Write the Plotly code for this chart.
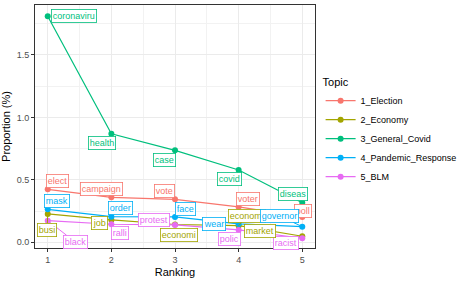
import plotly.graph_objects as go

ranking = [1, 2, 3, 4, 5]
topics = ["1_Election", "2_Economy", "3_General_Covid", "4_Pandemic_Response", "5_BLM"]
colors = ["#F8766D", "#A3A500", "#00BF7D", "#00B0F6", "#E76BF3"]

election = [0.424, 0.360, 0.344, 0.283, 0.203]
economy = [0.227, 0.179, 0.142, 0.133, 0.048]
general_covid = [1.810, 0.869, 0.736, 0.579, 0.317]
pandemic = [0.264, 0.205, 0.203, 0.147, 0.125]
blm = [0.173, 0.144, 0.139, 0.099, 0.032]

words_election = ["elect", "campaign", "vote", "voter", "poll"]
words_economy = ["busi", "job", "economi", "economi", "market"]
words_covid = ["coronaviru", "health", "case", "covid", "diseas"]
words_pandemic = ["mask", "order", "face", "wear", "governor"]
words_blm = ["black", "ralli", "protest", "polic", "racist"]

# label positions (repelled) in data coords
lab_x_election = [1.15, 1.84, 2.84, 4.14, 5.01]
lab_y_election = [0.488, 0.427, 0.408, 0.347, 0.253]
lab_x_economy = [0.99, 1.81, 3.07, 4.13, 4.33]
lab_y_economy = [0.099, 0.152, 0.061, 0.211, 0.088]
lab_x_covid = [1.41, 1.85, 2.84, 3.85, 4.85]
lab_y_covid = [1.81, 0.797, 0.659, 0.507, 0.384]
lab_x_pandemic = [1.15, 2.15, 3.16, 3.62, 4.64]
lab_y_pandemic = [0.328, 0.275, 0.269, 0.147, 0.211]
lab_x_blm = [1.43, 2.13, 2.67, 3.85, 4.74]
lab_y_blm = [0.003, 0.072, 0.179, 0.024, -0.003]

series = [election, economy, general_covid, pandemic, blm]
words = [words_election, words_economy, words_covid, words_pandemic, words_blm]
lab_x = [lab_x_election, lab_x_economy, lab_x_covid, lab_x_pandemic, lab_x_blm]
lab_y = [lab_y_election, lab_y_economy, lab_y_covid, lab_y_pandemic, lab_y_blm]
# which labels show a connecting segment
segments = {(1, 0), (1, 3), (4, 0), (3, 4)}

fig = go.Figure()
for i, (name, col, vals) in enumerate(zip(topics, colors, series)):
    fig.add_trace(go.Scatter(
        x=ranking, y=vals, mode="lines+markers", name=name,
        line=dict(color=col, width=1.2), marker=dict(color=col, size=6),
    ))

annotations = []
order = [(0, j) for j in range(5)] + [(2, j) for j in range(5)] + \
        [(4, j) for j in range(5)] + [(1, j) for j in range(5)] + [(3, j) for j in range(5)]
for i, j in order:
    col = colors[i]
    seg = (i, j) in segments
    a = dict(
        text=words[i][j], font=dict(family="Liberation Sans, Arial", size=9, color=col),
        bgcolor="white", bordercolor=col, borderwidth=0.8, borderpad=1,
        xref="x", yref="y",
    )
    if seg:
        a.update(x=ranking[j], y=series[i][j], ax=lab_x[i][j], ay=lab_y[i][j],
                 axref="x", ayref="y", showarrow=True, arrowhead=0,
                 arrowcolor=col, arrowwidth=1, standoff=0)
    else:
        a.update(x=lab_x[i][j], y=lab_y[i][j], showarrow=False)
    annotations.append(a)

fig.update_layout(
    width=457, height=281,
    margin=dict(l=35, r=142, t=5, b=33, autoexpand=False),
    paper_bgcolor="white", plot_bgcolor="white",
    font=dict(family="Liberation Sans, Arial", color="#000000"),
    annotations=annotations,
    legend=dict(
        title=dict(text="Topic", font=dict(size=11, color="#000000")),
        font=dict(size=9, color="#000000"),
        x=1.02, y=0.725, xanchor="left", yanchor="top",
        tracegroupgap=0, itemwidth=30, bgcolor="rgba(0,0,0,0)",
    ),
    xaxis=dict(
        range=[0.8, 5.2], tickvals=ranking, ticktext=[str(r) for r in ranking],
        showgrid=True, gridcolor="#EBEBEB", gridwidth=1,
        minor=dict(dtick=0.5, tick0=0.5, showgrid=True, gridcolor="#F2F2F2", gridwidth=0.6),
        ticks="outside", ticklen=3, tickcolor="#333333",
        tickfont=dict(size=9, color="#4D4D4D"),
        showline=True, linecolor="#333333", linewidth=1, mirror=True, zeroline=False,
        title=dict(text="Ranking", font=dict(size=11), standoff=4),
    ),
    yaxis=dict(
        range=[-0.046, 1.90], tickvals=[0, 0.5, 1.0, 1.5], tickformat=".1f",
        showgrid=True, gridcolor="#EBEBEB", gridwidth=1,
        minor=dict(tickvals=[0.25, 0.75, 1.25, 1.75], showgrid=True, gridcolor="#F2F2F2", gridwidth=0.6),
        ticks="outside", ticklen=3, tickcolor="#333333",
        tickfont=dict(size=9, color="#4D4D4D"),
        showline=True, linecolor="#333333", linewidth=1, mirror=True, zeroline=False,
        title=dict(text="Proportion (%)", font=dict(size=11), standoff=4),
    ),
)

fig.write_html("out.html", config={"displayModeBar": False},
               post_script="document.body.style.margin='0';")
